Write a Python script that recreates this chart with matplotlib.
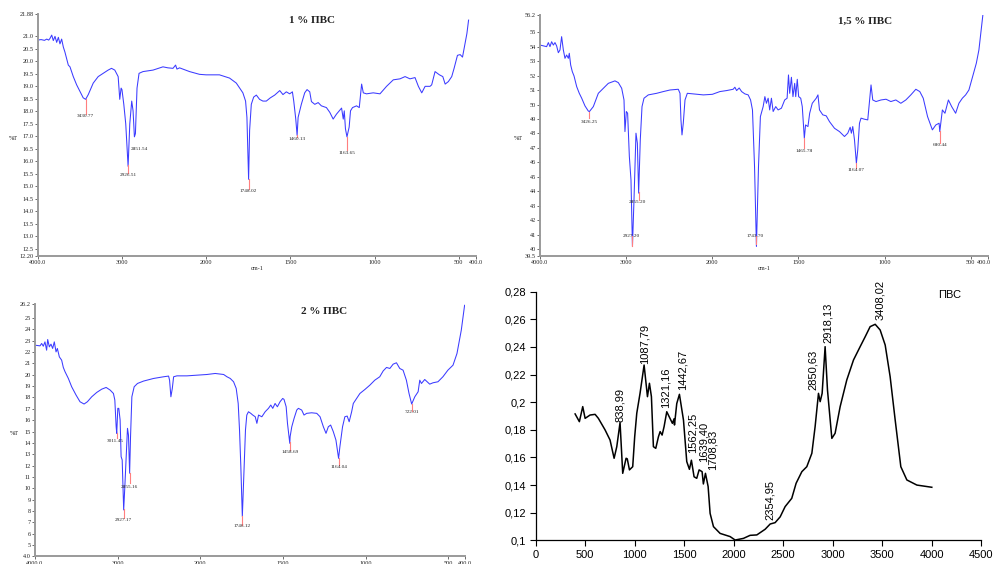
import numpy as np
import matplotlib.pyplot as plt

plt.rcParams['font.family'] = ['Liberation Serif', 'DejaVu Serif']

# --- 1 % ПВС (FTIR, %T) ---
wn_1 = [4000, 3960, 3920, 3893, 3870, 3854, 3834, 3815, 3795, 3775, 3755, 3736, 3716, 3696,
        3677, 3657, 3637, 3617, 3578, 3538, 3499, 3460, 3431, 3400, 3341, 3282, 3223, 3164,
        3124, 3085, 3045, 3026, 3010, 3000, 2978, 2955, 2927, 2907, 2884, 2868, 2852, 2840,
        2821, 2797, 2750, 2631, 2513, 2454, 2394, 2363, 2347, 2316, 2197, 2079, 2000, 1921,
        1861, 1821, 1782, 1766, 1758, 1748, 1742, 1732, 1718, 1702, 1683, 1663, 1643, 1619,
        1593, 1563, 1544, 1524, 1504, 1488, 1480, 1468, 1460, 1454, 1435, 1415, 1401, 1385,
        1375, 1355, 1335, 1316, 1286, 1266, 1246, 1226, 1206, 1196, 1186, 1180, 1173, 1164,
        1151, 1143, 1131, 1107, 1091, 1077, 1067, 1048, 1008, 968, 929, 889, 849, 819, 790,
        760, 740, 720, 700, 671, 661, 641, 615, 595, 581, 562, 542, 528, 508, 492, 478, 462,
        452, 442]
t_1 = [20.84, 20.86, 20.83, 20.88, 20.84, 20.91, 21.04, 20.82, 20.99, 20.75, 20.95, 20.69,
       20.88, 20.56, 20.36, 20.10, 19.84, 19.77, 19.38, 19.05, 18.79, 18.53, 18.47, 18.66,
       19.12, 19.38, 19.51, 19.64, 19.71, 19.64, 19.38, 18.47, 18.92, 18.86, 18.27, 17.49,
       15.79, 17.49, 18.40, 18.01, 16.97, 17.10, 18.92, 19.51, 19.58, 19.64, 19.77, 19.73,
       19.71, 19.84, 19.68, 19.73, 19.58, 19.47, 19.45, 19.45, 19.32, 19.12, 18.73, 18.40,
       17.75, 15.27, 17.23, 18.27, 18.56, 18.64, 18.47, 18.40, 18.40, 18.53, 18.64, 18.82,
       18.66, 18.77, 18.69, 18.77, 18.40, 17.68, 17.03, 17.75, 18.27, 18.73, 18.86, 18.77,
       18.38, 18.27, 18.34, 18.21, 18.14, 17.95, 17.68, 17.88, 18.04, 18.12, 17.68, 18.01,
       17.29, 16.97, 17.36, 18.01, 18.14, 18.21, 18.14, 19.08, 18.73, 18.69, 18.73, 18.69,
       18.99, 19.25, 19.29, 19.38, 19.29, 19.34, 18.99, 18.73, 18.99, 18.99, 19.05, 19.58,
       19.45, 19.38, 19.08, 19.18, 19.38, 19.71, 20.23, 20.26, 20.16, 20.75, 21.10, 21.64]
peaks_1 = ['3430.77', '2926.51', '2851.54', '1748.02', '1460.13', '1163.65']

# --- 1,5 % ПВС ---
wn_2 = [4000, 3923, 3903, 3884, 3865, 3845, 3826, 3807, 3787, 3768, 3749, 3729, 3710, 3691,
        3671, 3660, 3644, 3625, 3605, 3574, 3544, 3516, 3478, 3439, 3426, 3381, 3323, 3265,
        3207, 3130, 3091, 3052, 3025, 3014, 2998, 2983, 2963, 2944, 2927, 2909, 2886, 2870,
        2855, 2836, 2816, 2793, 2743, 2646, 2569, 2491, 2395, 2375, 2364, 2352, 2337, 2317,
        2290, 2221, 2104, 2000, 1956, 1917, 1879, 1869, 1859, 1844, 1830, 1811, 1792, 1778,
        1767, 1755, 1744, 1732, 1721, 1705, 1695, 1686, 1676, 1667, 1657, 1647, 1632, 1618,
        1599, 1580, 1566, 1558, 1551, 1541, 1532, 1522, 1516, 1507, 1499, 1487, 1478, 1466,
        1459, 1445, 1435, 1420, 1397, 1387, 1378, 1359, 1339, 1320, 1291, 1262, 1233, 1214,
        1200, 1193, 1185, 1175, 1164, 1156, 1146, 1137, 1118, 1098, 1079, 1069, 1050, 1021,
        992, 964, 935, 906, 877, 848, 819, 796, 776, 751, 723, 703, 684, 680, 665, 650, 630,
        611, 588, 569, 549, 530, 511, 492, 468, 453, 430]
t_2 = [54.12, 54.01, 54.29, 54.01, 54.35, 54.12, 54.29, 54.06, 53.59, 53.78, 54.70, 53.78,
       53.20, 53.43, 53.20, 53.55, 52.74, 52.28, 51.98, 51.24, 50.78, 50.44, 49.91, 49.55,
       49.52, 49.86, 50.78, 51.13, 51.47, 51.64, 51.52, 51.13, 50.32, 48.13, 49.52, 49.40,
       46.41, 44.79, 40.18, 43.41, 48.02, 47.33, 43.87, 47.56, 49.86, 50.44, 50.67, 50.78,
       50.90, 51.01, 51.06, 50.78, 48.94, 47.90, 48.71, 50.32, 50.78, 50.74, 50.67, 50.71,
       50.90, 50.97, 51.06, 51.20, 50.97, 51.15, 50.90, 50.74, 50.67, 50.32, 49.63, 45.71,
       40.18, 45.71, 49.17, 49.86, 50.55, 50.09, 50.44, 49.63, 50.44, 49.52, 49.86, 49.63,
       49.75, 50.32, 50.44, 52.05, 50.78, 51.89, 50.55, 51.47, 50.55, 51.75, 50.55, 50.44,
       49.86, 47.67, 48.59, 48.48, 49.40, 50.09, 50.44, 50.67, 49.63, 49.29, 49.22, 48.82,
       48.36, 48.13, 47.79, 48.02, 48.43, 48.02, 48.48, 47.56, 45.94, 46.87, 48.71, 49.06,
       48.99, 48.94, 51.36, 50.32, 50.21, 50.32, 50.37, 50.21, 50.32, 50.09, 50.32, 50.67,
       51.06, 50.90, 50.44, 49.17, 48.25, 48.59, 48.71, 48.13, 49.63, 49.40, 50.32, 49.86,
       49.40, 50.09, 50.44, 50.67, 51.01, 51.82, 52.86, 53.78, 56.20]
peaks_2 = ['3426.25', '2855.20', '2927.20', '1743.70', '1465.78', '1164.07', '680.44']

# --- 2 % ПВС ---
wn_3 = [4000, 3939, 3919, 3899, 3879, 3859, 3846, 3826, 3806, 3786, 3766, 3745, 3729, 3705,
        3677, 3657, 3636, 3596, 3556, 3503, 3455, 3406, 3366, 3313, 3253, 3192, 3139, 3091,
        3051, 3034, 3018, 3011, 2998, 2986, 2970, 2958, 2945, 2927, 2913, 2897, 2881, 2869,
        2855, 2844, 2828, 2800, 2760, 2687, 2566, 2444, 2384, 2372, 2356, 2339, 2323, 2283,
        2162, 2040, 1960, 1910, 1859, 1839, 1819, 1799, 1783, 1771, 1763, 1755, 1746, 1735,
        1727, 1719, 1709, 1695, 1683, 1668, 1658, 1648, 1628, 1608, 1588, 1574, 1562, 1548,
        1534, 1518, 1502, 1494, 1481, 1473, 1459, 1457, 1447, 1433, 1417, 1407, 1387, 1373,
        1357, 1327, 1296, 1276, 1256, 1240, 1226, 1212, 1196, 1180, 1164, 1156, 1140, 1126,
        1112, 1100, 1085, 1075, 1055, 1035, 1005, 975, 945, 915, 894, 874, 854, 834, 814,
        794, 774, 754, 738, 722, 703, 683, 673, 663, 643, 613, 593, 563, 533, 503, 472, 448,
        422, 402]
t_3 = [22.60, 22.54, 22.75, 22.51, 22.89, 22.16, 23.10, 22.45, 22.69, 22.31, 22.89, 22.01,
       22.31, 21.57, 21.28, 20.64, 20.26, 19.67, 18.94, 18.21, 17.62, 17.42, 17.62, 18.06,
       18.44, 18.73, 18.88, 18.65, 18.35, 17.77, 15.42, 14.84, 17.04, 17.04, 16.01, 12.79,
       12.50, 8.10, 10.15, 12.79, 15.28, 14.69, 11.33, 14.55, 18.06, 18.94, 19.23, 19.44,
       19.67, 19.82, 19.88, 19.52, 18.06, 18.79, 19.82, 19.90, 19.90, 19.96, 20.02, 20.11,
       20.02, 19.82, 19.67, 19.38, 18.79, 17.47, 15.13, 11.91, 7.52, 11.91, 15.13, 16.45,
       16.74, 16.60, 16.45, 16.30, 15.72, 16.45, 16.30, 16.74, 17.04, 17.33, 17.04, 17.47,
       17.18, 17.62, 17.91, 17.83, 17.18, 15.72, 13.96, 14.55, 15.42, 16.16, 16.89, 17.04,
       16.89, 16.45, 16.60, 16.65, 16.60, 16.30, 15.42, 14.84, 15.42, 15.57, 14.99, 14.25,
       12.64, 13.67, 15.42, 16.30, 16.36, 15.86, 16.74, 17.47, 17.91, 18.35, 18.70, 19.08,
       19.52, 19.82, 20.34, 20.64, 20.55, 20.93, 21.05, 20.55, 20.40, 19.52, 18.35, 17.42,
       18.06, 18.50, 19.52, 19.23, 19.58, 19.17, 19.29, 19.38, 19.82, 20.40, 20.84, 21.87,
       23.92, 26.11]
peaks_3 = ['3011.45', '2855.16', '2927.17', '1746.12', '1458.69', '1164.04', '722.01']

# --- ПВС (absorbance) ---
wn_pvs = [398, 441, 475, 499, 549, 600, 633, 701, 751, 792, 819, 852, 879, 913, 925, 947,
          980, 1000, 1021, 1054, 1095, 1129, 1149, 1169, 1189, 1213, 1240, 1257, 1277, 1297,
          1324, 1381, 1398, 1402, 1425, 1452, 1493, 1526, 1553, 1573, 1600, 1627, 1651, 1681,
          1694, 1715, 1742, 1762, 1796, 1863, 1964, 2015, 2099, 2166, 2234, 2318, 2369, 2419,
          2470, 2520, 2587, 2631, 2689, 2739, 2790, 2823, 2857, 2874, 2894, 2924, 2948, 2992,
          3025, 3076, 3143, 3211, 3278, 3329, 3379, 3430, 3480, 3531, 3581, 3632, 3689, 3750,
          3851, 4002]
a_pvs = [0.1915, 0.1859, 0.1968, 0.1883, 0.1907, 0.1912, 0.1883, 0.1799, 0.1726, 0.1594,
         0.1678, 0.1852, 0.1485, 0.1594, 0.1590, 0.1510, 0.1533, 0.1750, 0.1920, 0.2064,
         0.2269, 0.2040, 0.2137, 0.2040, 0.1678, 0.1666, 0.1750, 0.1787, 0.1762, 0.1823,
         0.1931, 0.1847, 0.1880, 0.1835, 0.1990, 0.2057, 0.1870, 0.1570, 0.1514, 0.1580,
         0.1460, 0.1449, 0.1510, 0.1497, 0.1408, 0.1485, 0.1389, 0.1195, 0.1099, 0.1050,
         0.1027, 0.1002, 0.1014, 0.1036, 0.1039, 0.1080, 0.1118, 0.1128, 0.1170, 0.1244,
         0.1304, 0.1413, 0.1497, 0.1533, 0.1630, 0.1823, 0.2064, 0.2004, 0.2064, 0.2402,
         0.2088, 0.1738, 0.1775, 0.1968, 0.2161, 0.2306, 0.2402, 0.2474, 0.2547, 0.2564,
         0.2523, 0.2414, 0.2185, 0.1871, 0.1533, 0.1437, 0.1400, 0.1384]
peaks_pvs = ['838,99', '1087,79', '1321,16', '1442,67', '1562,25', '1639,40', '1708,83',
             '2354,95', '2850,63', '2918,13', '3408,02']

SANS = ['Liberation Sans', 'DejaVu Sans']
XTICKS = [4000, 3000, 2000, 1500, 1000, 500, 400]
XLABELS = ['4000.0', '3000', '2000', '1500', '1000', '500', '400.0']


def fwd(x):
    x = np.asarray(x, dtype=float)
    return np.where(x > 2000, 2000 + (x - 2000) / 2, x)


def inv(u):
    u = np.asarray(u, dtype=float)
    return np.where(u > 2000, 2000 + (u - 2000) * 2, u)


def draw_ftir(ax, wn, t, ylim, yticks, ylabels, title, title_x, peaks, layout, ylab_x,
              xlabels=XLABELS, show_xlabel=True):
    ax.set_xscale('function', functions=(fwd, inv))
    ax.plot(wn, t, color='#3b3bff', lw=0.75)
    ax.set_xlim(4000, 400)
    ax.set_ylim(*ylim)
    ax.set_xticks(XTICKS)
    ax.set_xticklabels(xlabels)
    ax.set_yticks(yticks)
    ax.set_yticklabels(ylabels)
    ax.minorticks_off()
    for s in ['top', 'right']:
        ax.spines[s].set_visible(False)
    for s in ['left', 'bottom']:
        ax.spines[s].set_color('#9a9a9a')
        ax.spines[s].set_linewidth(1.4)
    ax.tick_params(labelsize=4.5, length=2, width=0.6, color='#555555', pad=1,
                   labelcolor='#222222')
    ax.text(title_x, 0.972, title, transform=ax.transAxes, fontsize=8, fontweight='bold',
            ha='center', va='center', color='#222222')
    ax.text(ylab_x, 0.487, '%T', transform=ax.transAxes, fontsize=4.5, ha='center',
            va='center', color='#222222')
    if show_xlabel:
        ax.text(0.5, -0.05, 'cm-1', transform=ax.transAxes, fontsize=4.5, ha='center',
                va='center', color='#222222')
    # peak markers: line from the curve down to the label
    order = np.argsort(wn)
    for lab, (y_end, lx, ly) in zip(peaks, layout):
        p = float(lab)
        y0 = np.interp(p, np.array(wn)[order], np.array(t)[order])
        ax.plot([p, p], [y0, y_end], color='#ff7f7f', lw=0.8)
        ax.text(lx if lx else p, ly, lab, fontsize=3.8, ha='center', va='center',
                color='#222222')


fig = plt.figure(figsize=(9.93, 5.64), dpi=100)

ax1 = fig.add_axes([0.038, 0.546, 0.441, 0.429])
yt1 = [12.2] + list(np.arange(12.5, 21.01, 0.5)) + [21.88]
yl1 = ['12.20'] + ['%.1f' % v for v in np.arange(12.5, 21.01, 0.5)] + ['21.88']
draw_ftir(ax1, wn_1, t_1, (12.2, 21.88), yt1, yl1, '1 % ПВС', 0.626, peaks_1,
          [(17.88, None, 17.79), (15.53, None, 15.44), (16.97, 2789, 16.48),
           (14.88, None, 14.81), (16.95, None, 16.87), (16.44, None, 16.33)], -0.057)

ax2 = fig.add_axes([0.5438, 0.5456, 0.4512, 0.4278])
yt2 = [39.5] + list(range(40, 56)) + [56.2]
yl2 = ['39.5'] + [str(v) for v in range(40, 56)] + ['56.2']
draw_ftir(ax2, wn_2, t_2, (39.5, 56.2), yt2, yl2, '1,5 % ПВС', 0.725, peaks_2,
          [(49.06, None, 48.82), (43.41, 2867, 43.23), (40.92, 2935, 40.92),
           (40.92, 1751, 40.92), (46.98, None, 46.80), (45.60, None, 45.48),
           (47.33, None, 47.17)], -0.048, xlabels=XLABELS[:-1] + [''])
# the 400.0 label would run past the picture edge, so it is set against the edge
fig.text(0.9985, 0.5385, '400.0', ha='right', va='top', fontsize=4.5, color='#222222')

ax3 = fig.add_axes([0.0352, 0.0133, 0.433, 0.4472])
yt3 = [4.0] + list(range(5, 26)) + [26.2]
yl3 = ['4.0'] + [str(v) for v in range(5, 26)] + ['26.2']
draw_ftir(ax3, wn_3, t_3, (4.0, 26.2), yt3, yl3, '2 % ПВС', 0.672, peaks_3,
          [(14.40, 3030, 14.17), (10.45, None, 10.15), (7.37, None, 7.17),
           (6.79, None, 6.70), (13.37, None, 13.23), (12.06, None, 11.91),
           (16.83, None, 16.68)], -0.047, show_xlabel=False)

# --- ПВС absorbance panel ---
ax4 = fig.add_axes([0.5395, 0.042, 0.4485, 0.4408])
ax4.plot(wn_pvs, a_pvs, color='black', lw=1.1)
ax4.set_xlim(0, 4500)
ax4.set_ylim(0.1, 0.28)
ax4.set_xticks(range(0, 4501, 500))
ax4.set_yticks(np.arange(0.10, 0.281, 0.02))
ax4.set_yticklabels(['0,1', '0,12', '0,14', '0,16', '0,18', '0,2', '0,22', '0,24',
                     '0,26', '0,28'])
for s in ['top', 'right']:
    ax4.spines[s].set_visible(False)
for s in ['left', 'bottom']:
    ax4.spines[s].set_linewidth(0.9)
ax4.tick_params(length=4, width=0.8, labelsize=8, pad=3)
for lab in ax4.get_xticklabels() + ax4.get_yticklabels():
    lab.set_family(SANS)
ax4.text(0.93, 0.987, 'ПВС', transform=ax4.transAxes, fontsize=8, ha='center',
         va='center', family=SANS)

pvs_layout = [(852, 0.1859), (1105, 0.2280), (1317, 0.1956), (1486, 0.2088),
              (1587, 0.1630), (1695, 0.1570), (1789, 0.1510), (2369, 0.1147),
              (2806, 0.2088), (2948, 0.2426), (3480, 0.2595)]
for lab, (lx, ly) in zip(peaks_pvs, pvs_layout):
    ax4.text(lx, ly, lab, rotation=90, fontsize=8, ha='center', va='bottom', family=SANS)

fig.savefig('out.png', dpi=100)
